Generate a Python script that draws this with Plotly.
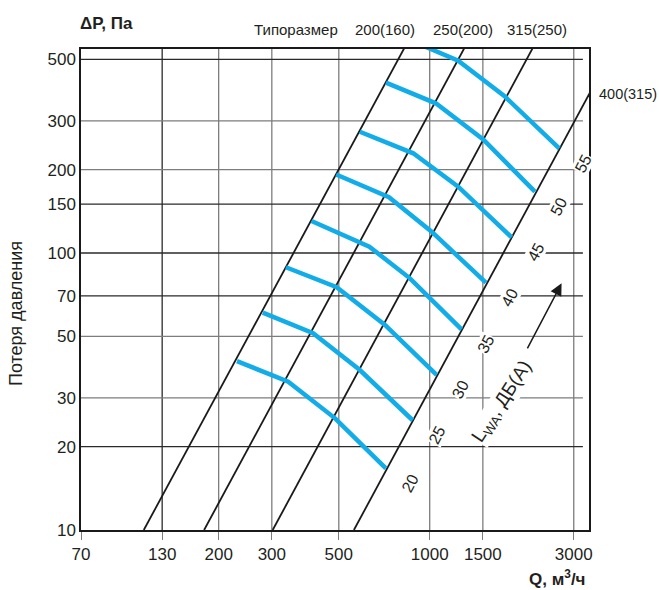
import numpy as np
import plotly.graph_objects as go

# ---------------- data ----------------
x_ticks = [70, 130, 200, 300, 500, 1000, 1500, 3000]
y_ticks = [10, 20, 30, 50, 70, 100, 150, 200, 300, 500]

# Size ("Типоразмер") characteristic lines: Q at dP = 10 Pa and at dP = 600 Pa
size_labels = ["200(160)", "250(200)", "315(250)", "400(315)"]
size_dp = [10, 600]
size_q_low = [113, 179, 302, 561]
size_q_high = [861, 1361, 2292, 4258]

# Noise level curves L_WA, dB(A)
noise_levels = [20, 25, 30, 35, 40, 45, 50, 55]
noise_q = [
    [230, 340, 486, 716],
    [280, 411, 587, 878],
    [334, 492, 711, 1054],
    [406, 631, 860, 1275],
    [490, 733, 1015, 1535],
    [587, 882, 1243, 1868],
    [716, 1048, 1504, 2231],
    [850, 1243, 1775, 2685],
]
noise_dp = [
    [40.7, 34.3, 25.3, 16.7],
    [60.9, 51.3, 37.8, 24.9],
    [88.8, 75.2, 55.0, 36.3],
    [130.5, 105.4, 81.0, 53.0],
    [192, 159, 119.4, 78.1],
    [274, 229, 173.5, 113.9],
    [412, 347, 257, 166.5],
    [590, 494.5, 367, 238.8],
]

# ---------------- style ----------------
FONT = "Liberation Sans, Arial, Helvetica, sans-serif"
TXT = "#231f20"
BLUE = "#12ACE8"
BLACK = "#1a1a1a"
GRID_DARK = "#2a2a2a"
GRID_GRAY = "#7d7d7d"
dark_x = [130]
dark_y = [500, 150, 100, 70, 20]

fig = go.Figure()

# size lines
for name, q0, q1 in zip(size_labels, size_q_low, size_q_high):
    fig.add_trace(go.Scatter(
        x=[q0, q1], y=size_dp, mode="lines", name=name,
        line=dict(color=BLACK, width=1.8), hoverinfo="skip", showlegend=False))

# noise curves
for lvl, qs, dps in zip(noise_levels, noise_q, noise_dp):
    fig.add_trace(go.Scatter(
        x=qs, y=dps, mode="lines", name=f"{lvl} дБ(А)",
        line=dict(color=BLUE, width=4.5), showlegend=False))
    fig.add_annotation(
        x=np.log10(qs[-1]), y=np.log10(dps[-1]), xref="x", yref="y",
        text=str(lvl), showarrow=False, textangle=-62,
        xanchor="center", yanchor="middle",
        xshift=24, yshift=-15, bgcolor="white", borderpad=0,
        font=dict(family=FONT, size=16, color=TXT))

# grid lines
for v in x_ticks[1:]:
    fig.add_shape(type="line", xref="x", yref="paper", x0=v, x1=v, y0=0, y1=1,
                  layer="below",
                  line=dict(color=GRID_DARK if v in dark_x else GRID_GRAY, width=1.3))
for v in y_ticks[1:]:
    fig.add_shape(type="line", xref="paper", yref="y", x0=0, x1=0.988, y0=v, y1=v,
                  layer="below",
                  line=dict(color=GRID_DARK if v in dark_y else GRID_GRAY, width=1.3))

# text annotations
fig.add_annotation(x=-0.0065, y=1.0524, xref="paper", yref="paper", xanchor="left",
                   yanchor="middle", showarrow=False, text="<b>ΔP, Па</b>",
                   font=dict(family=FONT, size=17, color=TXT))
fig.add_annotation(x=0.996, y=-0.099, xref="paper", yref="paper", xanchor="right",
                   yanchor="middle", showarrow=False, text="<b>Q, м<sup>3</sup>/ч</b>",
                   font=dict(family=FONT, size=17, color=TXT))
fig.add_annotation(x=-0.128, y=0.451, xref="paper", yref="paper", textangle=-90,
                   xanchor="center", yanchor="middle",
                   showarrow=False, text="Потеря давления",
                   font=dict(family=FONT, size=18, color=TXT))
fig.add_annotation(x=0.336, y=1.0406, xref="paper", yref="paper", xanchor="left",
                   yanchor="middle", showarrow=False, text="Типоразмер",
                   font=dict(family=FONT, size=15, color=TXT))
for lbl, px in zip(size_labels[:3], [0.598, 0.752, 0.897]):
    fig.add_annotation(x=px, y=1.0406, xref="paper", yref="paper", xanchor="center",
                       yanchor="middle", showarrow=False, text=lbl,
                       font=dict(family=FONT, size=15, color=TXT))
fig.add_annotation(x=1.0157, y=0.9064, xref="paper", yref="paper", xanchor="left",
                   yanchor="middle", showarrow=False, text=size_labels[3],
                   font=dict(family=FONT, size=14.5, color=TXT))

# L_WA label and arrow
fig.add_annotation(x=np.log10(1740), y=np.log10(29.0), xref="x", yref="y",
                   xanchor="center", yanchor="middle",
                   showarrow=False, textangle=-57, bgcolor="white", borderpad=0,
                   text="L<sub>WA</sub>, ДБ(А)",
                   font=dict(family=FONT, size=19, color=TXT))
fig.add_annotation(x=np.log10(2734), y=np.log10(77.7), xref="x", yref="y",
                   ax=np.log10(2094), ay=np.log10(44.7), axref="x", ayref="y",
                   text="", showarrow=True, arrowhead=2, arrowsize=1.6,
                   arrowwidth=1.5, arrowcolor=BLACK)

fig.update_xaxes(type="log", range=[np.log10(70), np.log10(3370)],
                 tickvals=x_ticks, ticktext=[str(v) for v in x_ticks],
                 showgrid=False, zeroline=False,
                 ticks="outside", ticklen=8, tickwidth=1.3, tickcolor=GRID_GRAY,
                 showline=True, mirror=True, linecolor=BLACK, linewidth=1.5,
                 tickfont=dict(family=FONT, size=17, color=TXT))
fig.update_yaxes(type="log", range=[1, np.log10(545)],
                 tickvals=y_ticks, ticktext=[str(v) for v in y_ticks],
                 showgrid=False, zeroline=False, ticks="",
                 showline=True, mirror=True, linecolor=BLACK, linewidth=1.5,
                 tickfont=dict(family=FONT, size=17, color=TXT))

fig.update_layout(width=659, height=590,
                  margin=dict(l=81, r=70, t=49, b=60),
                  plot_bgcolor="white", paper_bgcolor="white",
                  showlegend=False, font=dict(family=FONT, color=TXT))

# remove the default 8px page margin so the figure fills the window exactly
fig.write_html("out.html",
               config={"displayModeBar": False},
               post_script="document.body.style.margin='0';"
                           "document.body.style.overflow='hidden';")
